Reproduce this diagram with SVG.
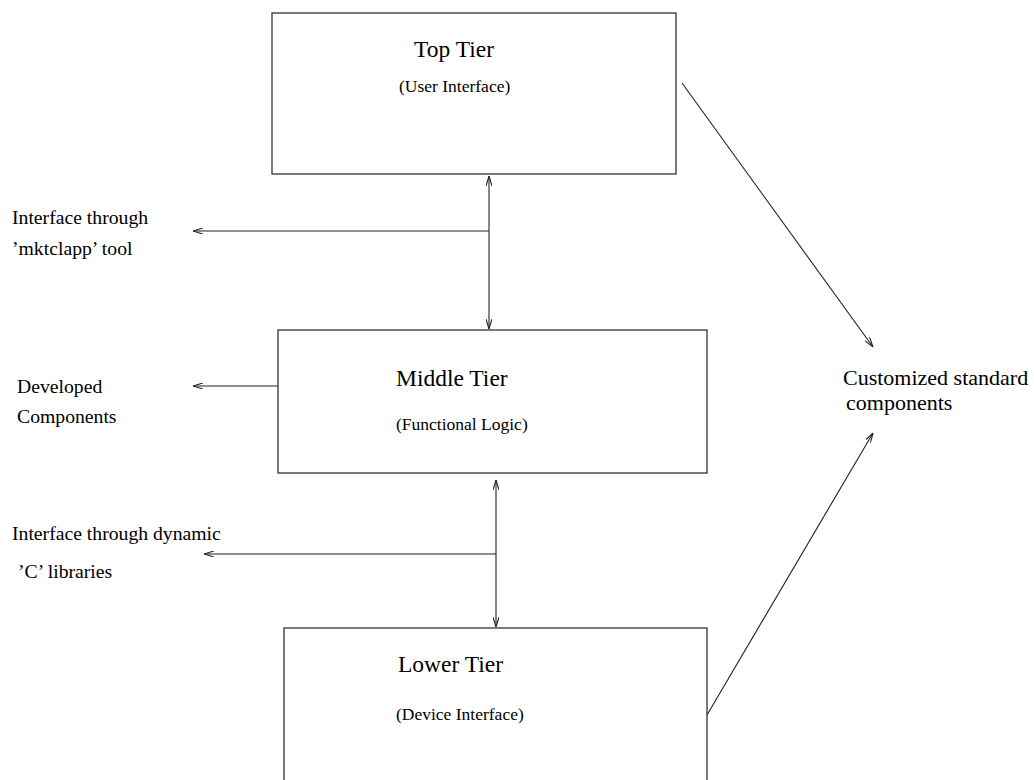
<svg xmlns="http://www.w3.org/2000/svg" width="1034" height="780" viewBox="0 0 1034 780">
<style>
  .box { fill: #fff; stroke: #222; stroke-width: 1.2; }
  .title { font-family: "Liberation Serif", "Times New Roman", serif; font-size: 23.5px; fill: #000; }
  .sub { font-family: "Liberation Serif", "Times New Roman", serif; font-size: 17.5px; fill: #000; }
  .lbl { font-family: "Liberation Serif", "Times New Roman", serif; font-size: 19.7px; fill: #000; }
  .lbl2 { font-family: "Liberation Serif", "Times New Roman", serif; font-size: 22px; fill: #000; }
  .conn { fill: none; stroke: #222; stroke-width: 1.1; }
</style>
<defs>
  <marker id="ah" viewBox="0 0 10 6" refX="10" refY="3" markerWidth="10" markerHeight="6" markerUnits="userSpaceOnUse" orient="auto-start-reverse">
    <path d="M0,0 L10,3 L0,6" fill="none" stroke="#222" stroke-width="1.1"/>
  </marker>
</defs>
<rect width="1034" height="780" fill="#fff"/>
<g id="top-tier">
  <rect class="box" x="272" y="13" width="404" height="161"/>
  <text class="title" x="414" y="57">Top Tier</text>
  <text class="sub" x="399" y="92">(User Interface)</text>
</g>
<g id="middle-tier">
  <rect class="box" x="278" y="330" width="429" height="143"/>
  <text class="title" x="396" y="386">Middle Tier</text>
  <text class="sub" x="396" y="430">(Functional Logic)</text>
</g>
<g id="lower-tier">
  <rect class="box" x="284" y="628" width="423" height="170"/>
  <text class="title" x="398" y="672">Lower Tier</text>
  <text class="sub" x="396" y="720">(Device Interface)</text>
</g>
<g id="label-mktclapp">
  <text class="lbl" x="12" y="224">Interface through</text>
  <text class="lbl" x="12" y="255">’mktclapp’ tool</text>
</g>
<g id="label-developed">
  <text class="lbl" x="17" y="393">Developed</text>
  <text class="lbl" x="17" y="423">Components</text>
</g>
<g id="label-dynamic">
  <text class="lbl" x="12" y="540">Interface through dynamic</text>
  <text class="lbl" x="18" y="578">’C’ libraries</text>
</g>
<g id="label-custom">
  <text class="lbl2" x="843" y="385">Customized standard</text>
  <text class="lbl2" x="846" y="410">components</text>
</g>
<g id="connectors">
  <line class="conn" x1="489" y1="176" x2="489" y2="329" marker-start="url(#ah)" marker-end="url(#ah)"/>
  <line class="conn" x1="489" y1="231" x2="193" y2="231" marker-end="url(#ah)"/>
  <line class="conn" x1="278" y1="386" x2="193" y2="386" marker-end="url(#ah)"/>
  <line class="conn" x1="496" y1="480" x2="496" y2="627" marker-start="url(#ah)" marker-end="url(#ah)"/>
  <line class="conn" x1="496" y1="554" x2="204" y2="554" marker-end="url(#ah)"/>
  <line class="conn" x1="682" y1="83" x2="873" y2="347" marker-end="url(#ah)"/>
  <line class="conn" x1="707" y1="715" x2="873" y2="433" marker-end="url(#ah)"/>
</g>
</svg>
